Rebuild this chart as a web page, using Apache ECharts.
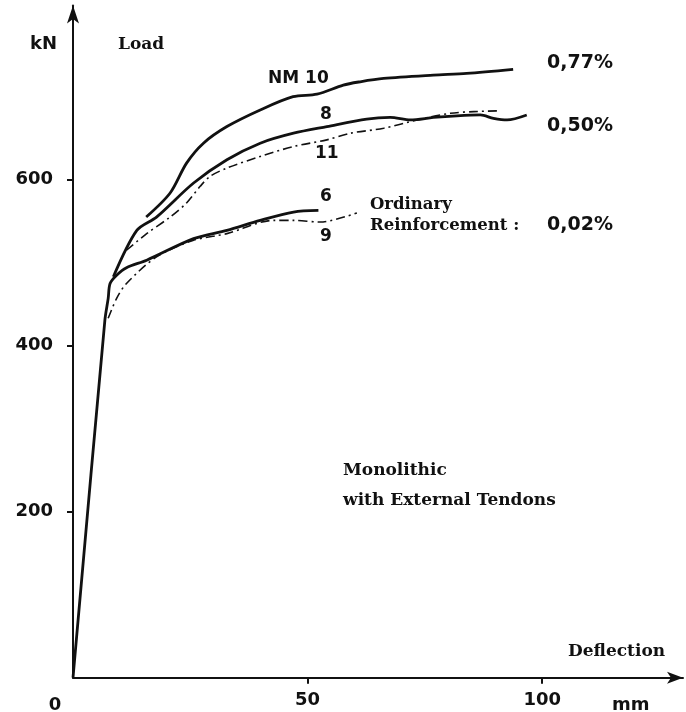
<!DOCTYPE html>
<html>
<head>
<meta charset="utf-8">
<script src="https://cdn.jsdelivr.net/npm/echarts@6/dist/echarts.min.js"></script>
<style>
  html, body { margin: 0; padding: 0; background: #fff; }
  #chart { width: 686px; height: 712px; }
</style>
</head>
<body>
<div id="chart"></div>
<script>
// load-deflection curves, [deflection mm, load kN]
var nm10 = [[15.6, 555], [20.7, 584], [24.2, 620], [27.8, 644], [32.8, 664], [39.9, 684], [46.9, 700], [52.0, 703], [57.6, 714], [61.2, 718], [66.2, 722], [76.8, 726], [83.9, 728], [93.8, 733]]
var beam8 = [[8.6, 483], [13.6, 539], [17.8, 555], [25.7, 596], [32.8, 624], [39.9, 644], [47.0, 656], [54.1, 664], [62.6, 673], [67.6, 675], [71.9, 672], [76.8, 675], [81.8, 677], [86.8, 678], [89.6, 674], [92.5, 672], [96.7, 678]]
var beam11 = [[11.4, 515], [15.7, 535], [20.7, 555], [24.2, 572], [27.1, 592], [29.2, 604], [32.8, 614], [39.9, 628], [47.0, 640], [54.1, 648], [59.1, 656], [66.2, 662], [73.3, 672], [80.4, 680], [85.4, 682], [91.0, 683]]
var beam6 = [[0, 0], [6.8, 431], [7.5, 457], [7.9, 475], [9.3, 485], [11.4, 494], [15.7, 503], [25.7, 529], [32.8, 539], [39.9, 551], [47.0, 561], [52.3, 563]]
var beam9 = [[7.5, 433], [9.3, 457], [11.4, 475], [17.8, 507], [25.7, 527], [32.8, 535], [42.7, 551], [47.0, 551], [52.7, 549], [60.5, 560]]

var xTicks = [50, 100]
var yTicks = [200, 400, 600]

var chart = echarts.init(document.getElementById('chart'))

var sans = 'DejaVu Sans'
var serif = 'DejaVu Serif'
var ink = '#111'

function label(text, x, y, size, family, align) {
  return {
    type: 'text',
    x: x,
    y: y,
    style: {
      text: text,
      fill: ink,
      font: 'bold ' + size + 'px "' + family + '"',
      align: align || 'left',
      verticalAlign: 'middle'
    }
  }
}

var solid = { color: ink, width: 2.8, type: 'solid' }
var dashDot = { color: ink, width: 1.6, type: [9, 4, 2, 4] }

function curve(name, data, style) {
  return {
    name: name,
    type: 'line',
    data: data,
    showSymbol: false,
    smooth: 0.3,
    lineStyle: style,
    silent: true
  }
}

var option = {
  backgroundColor: '#fff',
  animation: false,
  grid: { left: 73, right: 3, top: 5.4, bottom: 34.3 },
  xAxis: {
    type: 'value',
    min: 0,
    max: 130,
    interval: 50,
    splitLine: { show: false },
    axisLine: { lineStyle: { color: ink, width: 2 }, symbol: ['none', 'arrow'], symbolSize: [9, 16] },
    axisTick: { show: true, length: 6, customValues: xTicks, lineStyle: { color: ink, width: 2 } },
    axisLabel: { customValues: xTicks, color: ink, fontFamily: sans, fontWeight: 'bold', fontSize: 18, margin: 14 }
  },
  yAxis: {
    type: 'value',
    min: 0,
    max: 810,
    interval: 200,
    splitLine: { show: false },
    axisLine: { show: true, lineStyle: { color: ink, width: 2 }, symbol: ['none', 'arrow'], symbolSize: [9, 18] },
    axisTick: { show: true, length: 6, customValues: yTicks, lineStyle: { color: ink, width: 2 } },
    axisLabel: { customValues: yTicks, color: ink, fontFamily: sans, fontWeight: 'bold', fontSize: 18, margin: 20 }
  },
  series: [
    curve('NM 10', nm10, solid),
    curve('8', beam8, solid),
    curve('11', beam11, dashDot),
    curve('6', beam6, solid),
    curve('9', beam9, dashDot)
  ],
  graphic: [
    label('kN', 30, 44, 18, sans),
    label('Load', 118, 45, 17, serif),
    label('NM 10', 268, 79, 17, sans),
    label('8', 320, 115, 17, sans),
    label('11', 315, 154, 17, sans),
    label('6', 320, 197, 17, sans),
    label('9', 320, 237, 17, sans),
    label('0,77%', 547, 63, 19, sans),
    label('0,50%', 547, 126, 19, sans),
    label('0,02%', 547, 225, 19, sans),
    label('Ordinary', 370, 205, 16.5, serif),
    label('Reinforcement :', 370, 226, 16.5, serif),
    label('Monolithic', 343, 471, 17, serif),
    label('with External Tendons', 343, 501, 17, serif),
    label('Deflection', 568, 652, 17, serif),
    label('0', 55, 705, 18, sans, 'center'),
    label('mm', 612, 705, 18, sans)
  ]
}
chart.setOption(option)
</script>
</body>
</html>
